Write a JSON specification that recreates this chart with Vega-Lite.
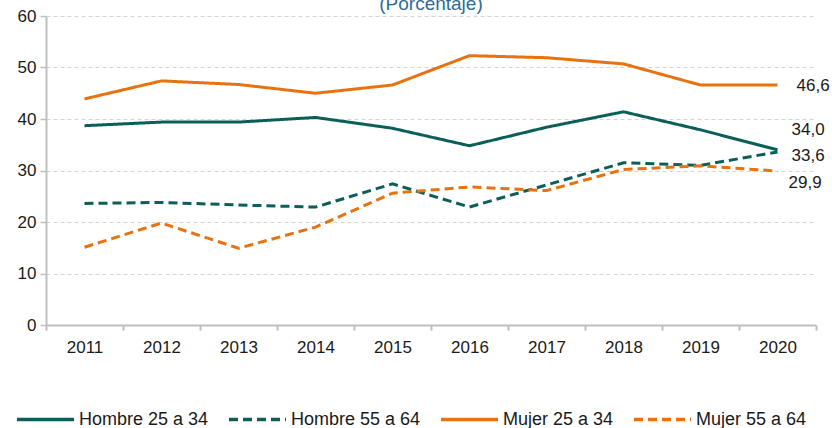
{
  "$schema": "https://vega.github.io/schema/vega-lite/v6.json",
  "width": 770,
  "height": 309,
  "autosize": {"type": "none"},
  "padding": {"left": 46, "top": 16, "right": 16, "bottom": 103},
  "background": "white",
  "title": {
    "text": "(Porcentaje)",
    "anchor": "middle",
    "frame": "group",
    "baseline": "alphabetic",
    "offset": -22,
    "fontSize": 19,
    "fontWeight": "normal",
    "font": "Liberation Sans",
    "color": "#2F6B9A"
  },
  "config": {
    "view": {"stroke": null},
    "font": "Liberation Sans",
    "locale": {
      "number": {"decimal": ",", "thousands": ".", "grouping": [3], "currency": ["", " €"]}
    }
  },
  "data": {
    "values": [
      {"year": "2011", "serie": "Hombre 25 a 34", "value": 38.7},
      {"year": "2012", "serie": "Hombre 25 a 34", "value": 39.4},
      {"year": "2013", "serie": "Hombre 25 a 34", "value": 39.4},
      {"year": "2014", "serie": "Hombre 25 a 34", "value": 40.3},
      {"year": "2015", "serie": "Hombre 25 a 34", "value": 38.2},
      {"year": "2016", "serie": "Hombre 25 a 34", "value": 34.8},
      {"year": "2017", "serie": "Hombre 25 a 34", "value": 38.4},
      {"year": "2018", "serie": "Hombre 25 a 34", "value": 41.4},
      {"year": "2019", "serie": "Hombre 25 a 34", "value": 37.9},
      {"year": "2020", "serie": "Hombre 25 a 34", "value": 34.0},
      {"year": "2011", "serie": "Hombre 55 a 64", "value": 23.6},
      {"year": "2012", "serie": "Hombre 55 a 64", "value": 23.8},
      {"year": "2013", "serie": "Hombre 55 a 64", "value": 23.3},
      {"year": "2014", "serie": "Hombre 55 a 64", "value": 22.9},
      {"year": "2015", "serie": "Hombre 55 a 64", "value": 27.4},
      {"year": "2016", "serie": "Hombre 55 a 64", "value": 22.9},
      {"year": "2017", "serie": "Hombre 55 a 64", "value": 27.2},
      {"year": "2018", "serie": "Hombre 55 a 64", "value": 31.5},
      {"year": "2019", "serie": "Hombre 55 a 64", "value": 31.0},
      {"year": "2020", "serie": "Hombre 55 a 64", "value": 33.6},
      {"year": "2011", "serie": "Mujer 25 a 34", "value": 43.9},
      {"year": "2012", "serie": "Mujer 25 a 34", "value": 47.4},
      {"year": "2013", "serie": "Mujer 25 a 34", "value": 46.7},
      {"year": "2014", "serie": "Mujer 25 a 34", "value": 45.0},
      {"year": "2015", "serie": "Mujer 25 a 34", "value": 46.6},
      {"year": "2016", "serie": "Mujer 25 a 34", "value": 52.3},
      {"year": "2017", "serie": "Mujer 25 a 34", "value": 51.9},
      {"year": "2018", "serie": "Mujer 25 a 34", "value": 50.7},
      {"year": "2019", "serie": "Mujer 25 a 34", "value": 46.6},
      {"year": "2020", "serie": "Mujer 25 a 34", "value": 46.6},
      {"year": "2011", "serie": "Mujer 55  a 64", "value": 15.1},
      {"year": "2012", "serie": "Mujer 55  a 64", "value": 19.8},
      {"year": "2013", "serie": "Mujer 55  a 64", "value": 14.9},
      {"year": "2014", "serie": "Mujer 55  a 64", "value": 19.0},
      {"year": "2015", "serie": "Mujer 55  a 64", "value": 25.6},
      {"year": "2016", "serie": "Mujer 55  a 64", "value": 26.8},
      {"year": "2017", "serie": "Mujer 55  a 64", "value": 26.1},
      {"year": "2018", "serie": "Mujer 55  a 64", "value": 30.2},
      {"year": "2019", "serie": "Mujer 55  a 64", "value": 30.9},
      {"year": "2020", "serie": "Mujer 55  a 64", "value": 29.9}
    ]
  },
  "encoding": {
    "x": {
      "field": "year",
      "type": "ordinal",
      "scale": {"type": "band", "paddingInner": 0, "paddingOuter": 0},
      "axis": {
        "title": null,
        "labelAngle": 0,
        "labelFontSize": 17,
        "labelColor": "#1a1a1a",
        "labelPadding": 9,
        "domainColor": "#BFBFBF",
        "domainWidth": 2,
        "tickColor": "#BFBFBF",
        "tickWidth": 2,
        "tickSize": 5,
        "tickBand": "extent",
        "grid": false
      }
    },
    "y": {
      "field": "value",
      "type": "quantitative",
      "scale": {"domain": [0, 60], "nice": false},
      "axis": {
        "title": null,
        "values": [0, 10, 20, 30, 40, 50, 60],
        "labelFontSize": 17,
        "labelColor": "#1a1a1a",
        "labelPadding": 4,
        "domainColor": "#BFBFBF",
        "domainWidth": 2,
        "tickColor": "#BFBFBF",
        "tickWidth": 1.5,
        "tickSize": 6,
        "grid": true,
        "gridColor": "#D4D4D4",
        "gridDash": [4, 3],
        "gridWidth": 1
      }
    }
  },
  "layer": [
    {
      "mark": {"type": "line", "strokeWidth": 3},
      "encoding": {
        "color": {
          "field": "serie",
          "type": "nominal",
          "scale": {
            "domain": ["Hombre 25 a 34", "Hombre 55 a 64", "Mujer 25 a 34", "Mujer 55  a 64"],
            "range": ["#0B5F58", "#0B5F58", "#E8720F", "#E8720F"]
          },
          "legend": {
            "title": null,
            "orient": "none",
            "legendX": -31,
            "legendY": 373,
            "direction": "horizontal",
            "columns": 4,
            "gridAlign": "none",
            "columnPadding": 13,
            "padding": 0,
            "symbolType": "stroke",
            "symbolSize": 3249,
            "symbolStrokeWidth": 3.3,
            "labelFontSize": 18,
            "labelColor": "#1a1a1a",
            "labelOffset": 3,
            "labelLimit": 300
          }
        },
        "strokeDash": {
          "field": "serie",
          "type": "nominal",
          "scale": {
            "domain": ["Hombre 25 a 34", "Hombre 55 a 64", "Mujer 25 a 34", "Mujer 55  a 64"],
            "range": [[1, 0], [9, 5], [1, 0], [9, 5]]
          },
          "legend": {
            "title": null,
            "orient": "none",
            "legendX": -31,
            "legendY": 373,
            "direction": "horizontal",
            "columns": 4,
            "gridAlign": "none",
            "columnPadding": 13,
            "padding": 0,
            "symbolType": "stroke",
            "symbolSize": 3249,
            "symbolStrokeWidth": 3.3,
            "labelFontSize": 18,
            "labelColor": "#1a1a1a",
            "labelOffset": 3,
            "labelLimit": 300
          }
        }
      }
    },
    {
      "transform": [{"filter": "datum.year == '2020' && datum.serie == 'Mujer 25 a 34'"}],
      "mark": {"type": "text", "align": "left", "baseline": "middle", "dx": 19, "dy": 1, "fontSize": 17, "color": "#1a1a1a"},
      "encoding": {"text": {"field": "value", "type": "quantitative", "format": ".1f"}}
    },
    {
      "transform": [{"filter": "datum.year == '2020' && datum.serie == 'Hombre 25 a 34'"}],
      "mark": {"type": "text", "align": "left", "baseline": "middle", "dx": 14, "dy": -20, "fontSize": 17, "color": "#1a1a1a"},
      "encoding": {"text": {"field": "value", "type": "quantitative", "format": ".1f"}}
    },
    {
      "transform": [{"filter": "datum.year == '2020' && datum.serie == 'Hombre 55 a 64'"}],
      "mark": {"type": "text", "align": "left", "baseline": "middle", "dx": 14, "dy": 4, "fontSize": 17, "color": "#1a1a1a"},
      "encoding": {"text": {"field": "value", "type": "quantitative", "format": ".1f"}}
    },
    {
      "transform": [{"filter": "datum.year == '2020' && datum.serie == 'Mujer 55  a 64'"}],
      "mark": {"type": "text", "align": "left", "baseline": "middle", "dx": 11, "dy": 12, "fontSize": 17, "color": "#1a1a1a"},
      "encoding": {"text": {"field": "value", "type": "quantitative", "format": ".1f"}}
    }
  ]
}
